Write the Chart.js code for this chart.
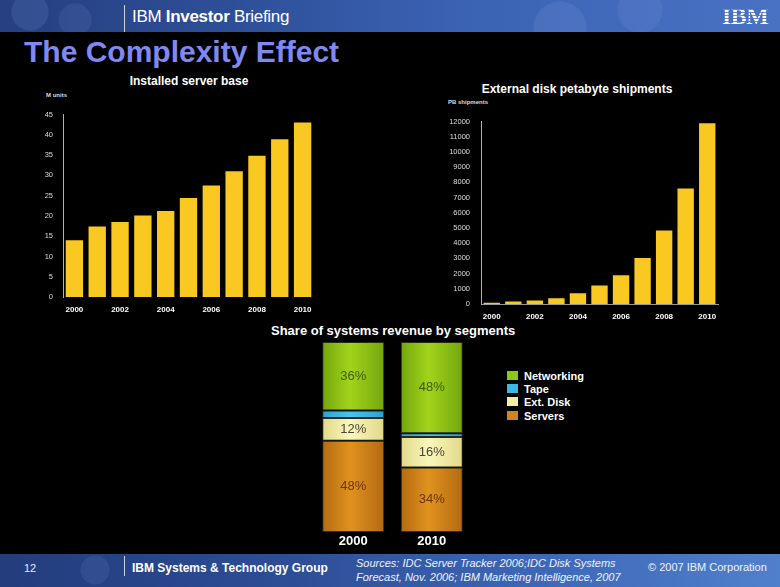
<!DOCTYPE html>
<html>
<head>
<meta charset="utf-8">
<script src="https://cdn.jsdelivr.net/npm/chart.js@4/dist/chart.umd.min.js"></script>
<style>
  html,body{margin:0;padding:0;background:#000;}
  body{width:780px;height:587px;position:relative;overflow:hidden;font-family:"Liberation Sans",Arial,sans-serif;color:#fff;}
  .abs{position:absolute;white-space:nowrap;}
  #header{left:0;top:0;width:780px;height:32px;
    background:
      radial-gradient(circle at 30px 12px, rgba(120,150,210,0.18) 0 18px, transparent 19px),
      radial-gradient(circle at 75px 20px, rgba(120,150,210,0.14) 0 16px, transparent 17px),
      radial-gradient(circle at 560px 28px, rgba(140,170,230,0.14) 0 26px, transparent 27px),
      radial-gradient(circle at 640px 10px, rgba(140,170,230,0.12) 0 22px, transparent 23px),
      linear-gradient(90deg,#263f80 0%,#2e4f98 30%,#3b63b4 60%,#4a72c4 100%);}
  #footer{left:0;top:554px;width:780px;height:33px;
    background:
      radial-gradient(circle at 95px 16px, rgba(120,150,210,0.15) 0 14px, transparent 15px),
      linear-gradient(90deg,#233c7c 0%,#2c4c94 35%,#3e68b8 70%,#5080cc 100%);}
  .sep{width:1px;background:rgba(255,255,255,0.75);}
  canvas{position:absolute;}
</style>
</head>
<body>
<div id="header" class="abs"></div>
<div class="abs sep" style="left:124px;top:5px;height:27px;"></div>
<div class="abs" style="left:132px;top:7px;font-size:17px;line-height:20px;letter-spacing:-0.3px;">IBM <b>Investor</b> Briefing</div>
<div class="abs" style="left:722px;top:4px;font-size:24px;line-height:24px;font-weight:bold;font-family:'Liberation Serif',serif;color:#fff;letter-spacing:-0.5px;
  background:repeating-linear-gradient(180deg,#fff 0 2px,rgba(255,255,255,0.2) 2px 3px);-webkit-background-clip:text;background-clip:text;-webkit-text-fill-color:transparent;">IBM</div>
<div class="abs" style="left:24px;top:35px;font-size:30px;line-height:34px;font-weight:bold;color:#8088f2;">The Complexity Effect</div>

<div class="abs" style="left:189px;top:74px;transform:translateX(-50%);font-size:12px;font-weight:bold;">Installed server base</div>
<div class="abs" style="left:46px;top:92px;font-size:6px;font-weight:bold;color:#ddd;">M units</div>
<div class="abs" style="left:577px;top:82px;transform:translateX(-50%);font-size:12px;font-weight:bold;">External disk petabyte shipments</div>
<div class="abs" style="left:448px;top:99px;font-size:6px;font-weight:bold;color:#ddd;">PB shipments</div>
<div class="abs" style="left:271px;top:323px;font-size:13px;font-weight:bold;">Share of systems revenue by segments</div>

<div class="abs" style="left:507px;top:370px;font-size:11px;font-weight:bold;line-height:13.2px;">
  <div><span style="display:inline-block;width:11px;height:9px;background:#8cc61a;margin-right:6px;"></span>Networking</div>
  <div><span style="display:inline-block;width:11px;height:9px;background:#3ab8e6;margin-right:6px;"></span>Tape</div>
  <div><span style="display:inline-block;width:11px;height:9px;background:#f3eea0;margin-right:6px;"></span>Ext. Disk</div>
  <div><span style="display:inline-block;width:11px;height:9px;background:#cf8420;margin-right:6px;"></span>Servers</div>
</div>

<canvas id="c1" width="300" height="222" style="left:20px;top:100px;"></canvas>
<canvas id="c2" width="315" height="225" style="left:410px;top:106px;"></canvas>
<canvas id="c3" width="185" height="218" style="left:300px;top:335px;"></canvas>

<div id="footer" class="abs"></div>
<div class="abs sep" style="left:124px;top:556px;height:20px;"></div>
<div class="abs" style="left:24px;top:562px;font-size:11px;color:#e6ecf8;">12</div>
<div class="abs" style="left:132px;top:561px;font-size:12px;font-weight:bold;">IBM Systems &amp; Technology Group</div>
<div class="abs" style="left:356px;top:556px;font-size:11px;font-style:italic;line-height:14px;color:#eef2fb;">Sources: IDC Server Tracker 2006;IDC Disk Systems<br>Forecast, Nov. 2006; IBM Marketing Intelligence, 2007</div>
<div class="abs" style="left:648px;top:561px;font-size:11px;color:#eef2fb;">© 2007 IBM Corporation</div>

<script>
// ---- data ----
const years = ['2000','2001','2002','2003','2004','2005','2006','2007','2008','2009','2010'];
const serverBase = [14, 17.4, 18.5, 20.1, 21.2, 24.4, 27.5, 31.0, 34.8, 38.9, 43.0];
const diskPB = [80, 170, 230, 380, 700, 1210, 1890, 3030, 4830, 7590, 11890];
const shareYears = ['2000','2010'];
const shareServers = [48, 34];
const shareExtDisk = [12, 16];
const shareTape = [4, 2];
const shareNetworking = [36, 48];

const FONT = "'Liberation Sans', Arial, sans-serif";
const YELLOW = '#f9c921';
const SHARE_BAR_PCT = 0.79;

function evenLabel(val, idx){ return idx % 2 === 0 ? years[idx] : ''; }

function barChart(id, data, max, step, yWidth, padRight, padTop, xHeight, xBorder, yPad){
  return new Chart(document.getElementById(id), {
    type: 'bar',
    data: { labels: years, datasets: [{ data: data, backgroundColor: YELLOW, borderWidth: 0,
      categoryPercentage: 1, barPercentage: 0.76 }] },
    options: {
      responsive: false, animation: false,
      layout: { padding: { top: padTop, right: padRight, left: 0, bottom: 0 } },
      plugins: { legend: { display: false }, tooltip: { enabled: false } },
      scales: {
        x: {
          grid: { display: false, drawTicks: false },
          border: { display: xBorder, color: '#9a9a9a', width: 1 },
          ticks: { autoSkip: false, maxRotation: 0, padding: 8, color: '#ffffff',
            font: { family: FONT, size: 8, weight: 'bold' }, callback: evenLabel },
          afterFit: s => { s.height = xHeight; }
        },
        y: {
          min: 0, max: max,
          grid: { display: false, drawTicks: false },
          border: { display: true, color: '#b0b0b0', width: 1 },
          ticks: { stepSize: step, padding: yPad, color: '#dddddd', font: { family: FONT, size: 7.5 },
            callback: v => String(v) },
          afterFit: s => { s.width = yWidth; }
        }
      }
    }
  });
}

barChart('c1', serverBase, 45, 5, 43, 6, 10, 25, false, 10);
barChart('c2', diskPB, 12000, 1000, 71, 7, 10, 27, true, 11);

// stacked share chart: horizontal shading across each bar, positioned from the x scale
function grad(c1, c2){
  return function(ctx){
    const chart = ctx.chart;
    const xs = chart.scales && chart.scales.x;
    if (!chart.chartArea || !xs || ctx.dataIndex === undefined) return c1;
    const cx = xs.getPixelForValue(ctx.dataIndex);
    const w = (xs.width / chart.data.labels.length) * SHARE_BAR_PCT;
    if (!Number.isFinite(cx) || !Number.isFinite(w)) return c1;
    const g = chart.ctx.createLinearGradient(cx - w/2, 0, cx + w/2, 0);
    g.addColorStop(0, c2); g.addColorStop(0.45, c1); g.addColorStop(1, c2);
    return g;
  };
}

const segLabels = {
  id: 'segLabels',
  afterDatasetsDraw(chart){
    const ctx = chart.ctx;
    ctx.save();
    ctx.font = '13px ' + FONT;
    ctx.textAlign = 'center';
    ctx.textBaseline = 'middle';
    chart.data.datasets.forEach((ds, di) => {
      if (!ds.showLabel) return;
      const meta = chart.getDatasetMeta(di);
      meta.data.forEach((el, i) => {
        ctx.fillStyle = ds.labelColor;
        ctx.fillText(ds.data[i] + '%', el.x, (el.y + el.base) / 2);
      });
    });
    ctx.restore();
  }
};

const shareChart = new Chart(document.getElementById('c3'), {
  type: 'bar',
  data: {
    labels: shareYears,
    datasets: [
      { label: 'Servers', data: shareServers, backgroundColor: grad('#e0921e', '#b46a12'), showLabel: true, labelColor: '#6b3408' },
      { label: 'Ext. Disk', data: shareExtDisk, backgroundColor: grad('#faf6bc', '#e0d98a'), showLabel: true, labelColor: '#4a4630' },
      { label: 'Tape', data: shareTape, backgroundColor: grad('#44c6f2', '#2aa2d2'), showLabel: false },
      { label: 'Networking', data: shareNetworking, backgroundColor: grad('#a2d41c', '#74a60c'), showLabel: true, labelColor: '#3e5a08' }
    ].map(d => Object.assign(d, { borderColor: '#2a2a1a', borderWidth: 1, borderSkipped: false,
      categoryPercentage: 1, barPercentage: SHARE_BAR_PCT }))
  },
  options: {
    responsive: false, animation: false,
    layout: { padding: { top: 7, left: 14, right: 14, bottom: 0 } },
    plugins: { legend: { display: false }, tooltip: { enabled: false } },
    scales: {
      x: { stacked: true, grid: { display: false, drawTicks: false }, border: { display: false },
        ticks: { padding: 2, color: '#ffffff', font: { family: FONT, size: 13, weight: 'bold' } },
        afterFit: s => { s.height = 21; } },
      y: { stacked: true, display: false, min: 0, max: 100 }
    }
  },
  plugins: [segLabels]
});
// re-resolve scriptable colours now that the scales have their pixel positions
shareChart.update('none');
</script>
</body>
</html>
